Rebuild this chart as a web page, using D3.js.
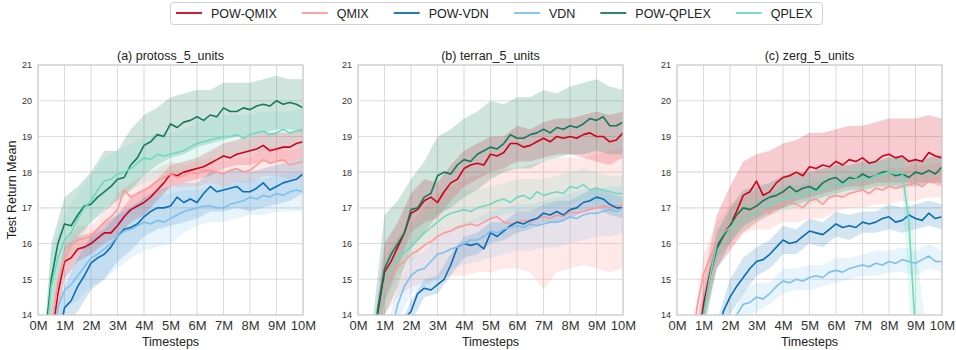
<!DOCTYPE html>
<html>
<head>
<meta charset="utf-8">
<script src="https://cdn.jsdelivr.net/npm/d3@7"></script>
<style>
  body { margin: 0; background: #fff; }
  svg { display: block; font-family: "Liberation Sans", Arial, sans-serif; }
</style>
</head>
<body>
<svg width="956" height="350"></svg>
<script>
// шаги по оси X (млн. шагов): линии через 0.25M, полосы через 0.5M
const steps = d3.range(41).map(i => i * 0.25);
const bandSteps = d3.range(21).map(i => i * 0.5);

const xTicks = [0, 1, 2, 3, 4, 5, 6, 7, 8, 9, 10];
const yTicks = [14, 15, 16, 17, 18, 19, 20, 21];

const seriesNames = ["POW-QMIX", "QMIX", "POW-VDN", "VDN", "POW-QPLEX", "QPLEX"];
const seriesColors = ["#d0021b", "#ff9896", "#0a6db3", "#7cc0ec", "#15795b", "#6fd9bf"];

const panelTitles = ["(a) protoss_5_units", "(b) terran_5_units", "(c) zerg_5_units"];

// (a) protoss_5_units
const a_powQmix = [10,11.5,13.3,14.6,15.5,15.6,15.85,15.9,16,16.15,16.3,16.3,16.5,16.75,16.95,17.05,17.15,17.3,17.5,17.7,17.95,17.9,18,18.05,18.1,18.15,18.25,18.35,18.45,18.4,18.5,18.55,18.6,18.65,18.75,18.6,18.65,18.7,18.7,18.8,18.85];
const a_qmix = [10,11.8,13.6,14.9,15.6,15.95,16.1,16.15,16.2,16.4,16.6,16.75,16.95,17.5,17.3,17.4,17.5,17.6,17.75,17.85,17.95,17.85,17.9,18,17.95,18.05,18.05,18,17.95,18.05,18.1,18,18.05,18.2,18.35,18.25,18.3,18.35,18.2,18.25,18.3];
const a_powVdn = [9,10.5,12,13.3,14.2,14.4,14.8,15.1,15.45,15.6,15.7,15.9,16.2,16.4,16.45,16.55,16.75,16.9,17,17,17.05,17.3,17.15,17.25,17.15,17.4,17.6,17.45,17.5,17.55,17.6,17.45,17.45,17.55,17.7,17.5,17.6,17.7,17.75,17.8,17.95];
const a_vdn = [9.5,11,12.8,14.2,14.7,14.85,15.1,15.35,15.6,15.7,15.85,16,16.2,16.35,16.4,16.5,16.6,16.55,16.65,16.6,16.7,16.8,16.9,16.95,17,17.05,17.05,17,17,17.1,17.15,17.2,17.3,17.25,17.35,17.3,17.4,17.35,17.45,17.5,17.45];
const a_powQplex = [10,13.2,15,16,16.55,16.5,16.8,17.05,17.1,17.3,17.45,17.6,17.8,17.85,18.2,18.4,18.75,18.85,19.05,19,19.35,19.25,19.4,19.45,19.55,19.45,19.6,19.55,19.8,19.7,19.7,19.8,19.75,19.85,19.9,19.85,20,19.9,19.95,19.9,19.8];
const a_qplex = [10,12.8,14.8,15.6,16.1,16.3,16.7,17,17.2,17.5,17.75,17.8,17.95,18,18.1,18.25,18.4,18.35,18.5,18.45,18.5,18.55,18.6,18.7,18.8,18.85,18.9,18.95,19,19,19.05,18.95,19.05,19.1,19.15,19.05,19.1,19.2,19.1,19.15,19.2];

const a_powQmixLo = [9,12.8,15,15.5,15.7,16,16.2,16.6,16.8,17.2,17.6,17.7,17.8,17.9,18.1,18.2,18.2,18.3,18.3,18.3,18.4];
const a_powQmixHi = [11,13.9,15.9,16.2,16.3,16.6,16.8,17.3,17.5,17.8,18.2,18.3,18.4,18.6,18.8,18.9,19,19.1,19.1,19.1,19.2];
const a_qmixLo = [9,13,15.2,15.7,15.9,16.2,16.5,16.9,17.1,17.4,17.6,17.6,17.6,17.7,17.6,17.7,17.7,17.9,17.9,17.8,17.9];
const a_qmixHi = [11,14.2,16,16.5,16.5,16.9,17.4,17.7,17.9,18.1,18.3,18.2,18.3,18.4,18.3,18.4,18.4,18.7,18.7,18.6,18.7];
const a_powVdnLo = [8,11,13.6,14.1,14.7,15,15.5,15.8,16.2,16.4,16.5,16.6,16.7,16.9,16.9,17,16.9,17,17.1,17.2,17.4];
const a_powVdnHi = [10,13,14.8,15.6,16.2,16.4,16.8,17,17.3,17.5,17.6,17.7,17.7,18,18,18.1,18,18.1,18.2,18.3,18.4];
const a_vdnLo = [8.5,12,14.2,14.4,14.8,15,15.3,15.6,15.8,15.9,16,16.3,16.5,16.6,16.6,16.7,16.8,16.8,16.9,16.9,16.9];
const a_vdnHi = [10.5,13.6,15.2,15.7,16.2,16.5,16.9,17.1,17.2,17.3,17.4,17.5,17.5,17.6,17.6,17.7,17.8,17.8,17.9,18,18];
const a_powQplexLo = [9,14,15.8,16.2,16.6,16.9,17.2,17.5,17.9,18.2,18.4,18.5,18.7,18.8,18.9,19,19,19.1,19.2,19.2,19.1];
const a_powQplexHi = [11,16,17.3,17.6,18,18.6,18.6,19.2,19.6,19.8,20.1,20.2,20.3,20.3,20.5,20.5,20.5,20.6,20.7,20.6,20.6];
const a_qplexLo = [9,13.8,15.4,16,16.6,17,17.3,17.5,17.7,17.8,17.9,18,18.1,18.3,18.4,18.5,18.5,18.6,18.6,18.7,18.7];
const a_qplexHi = [11,15.8,16.8,17.4,17.9,18.4,18.6,18.8,19,19.1,19.1,19.2,19.4,19.5,19.6,19.6,19.6,19.7,19.7,19.7,19.8];

// (b) terran_5_units
const b_powQmix = [9,10.5,12.2,14,15.2,15.5,15.9,16.3,16.85,16.95,17.2,17.3,17.15,17.45,17.7,17.8,18.1,18.2,18.25,18.2,18.5,18.45,18.55,18.8,18.8,18.7,18.75,18.85,18.95,18.85,19,18.95,19,18.95,19.05,19.1,19,19,18.85,18.9,19.1];
const b_qmix = [9,10.3,11.9,13.7,14.8,15.1,15.35,15.5,15.7,15.8,15.95,16.05,16.2,16.3,16.35,16.45,16.5,16.55,16.5,16.6,16.7,16.75,16.6,16.55,16.6,16.65,16.6,16.7,16.75,16.7,16.8,16.75,16.9,16.85,16.9,16.95,17,17.05,17,17.05,17.05];
const b_powVdn = [8,9,10,11,11.8,12.6,13.3,13.9,14.1,14.6,14.75,14.7,14.85,15,15.4,15.9,16,15.95,16,15.85,16.3,16.2,16.35,16.5,16.6,16.55,16.65,16.7,16.85,16.8,16.9,16.8,16.95,17,17.15,17.2,17.3,17.25,17.1,17,17];
const b_vdn = [8.5,9.5,10.5,11.5,12.6,13.5,14.3,14.8,15.1,15.25,15.3,15.5,15.7,15.75,15.85,15.9,16,16.1,16.1,16.2,16.35,16.3,16.4,16.45,16.5,16.45,16.55,16.5,16.55,16.6,16.6,16.65,16.75,16.7,16.8,16.85,16.85,16.9,16.95,16.9,17];
const b_powQplex = [9,10.5,12.2,14.2,15.3,15.7,16,16.3,16.95,17,17.3,17.4,17.9,18,17.95,18.2,18.35,18.3,18.5,18.6,18.7,18.65,18.8,19.05,18.95,18.95,19.05,19.1,19.2,19.1,19.25,19.2,19.3,19.25,19.35,19.5,19.45,19.55,19.3,19.3,19.4];
const b_qplex = [9,10.3,12,13.8,14.9,15.3,15.6,15.75,15.9,16.1,16.3,16.45,16.6,16.75,16.85,16.9,16.95,16.9,17,17.05,17.1,17.2,17.25,17.15,17.3,17.35,17.25,17.45,17.35,17.4,17.45,17.4,17.6,17.55,17.65,17.5,17.55,17.5,17.45,17.4,17.4];

const b_powQmixLo = [8,11,14.4,15.3,16.3,16.6,16.7,17.2,17.6,17.8,18,18.1,18.3,18.3,18.4,18.5,18.5,18.4,18.3,18.2,18.4];
const b_powQmixHi = [10,13,16,16.6,17.4,17.8,17.7,18.2,18.6,18.8,19,19,19.3,19.2,19.4,19.5,19.5,19.6,19.7,19.6,19.7];
const b_qmixLo = [8,10.5,14,14.5,14.8,14.9,15,15.1,15.1,15.2,15.2,15.3,15.3,15.2,14.7,15.2,15.3,15.4,15.3,15.2,15.3];
const b_qmixHi = [10,13,15.6,16.2,16.6,17,17.4,17.6,17.8,17.9,18,18.1,18.1,18.2,18.3,18.4,18.4,18.4,18.5,18.6,18.7];
const b_powVdnLo = [7.5,9.5,11.4,13,13.8,14.5,14.6,15.1,15.6,15.7,16,16.1,16.3,16.4,16.6,16.6,16.7,16.9,17,16.8,16.7];
const b_powVdnHi = [8.5,10.5,12.2,13.6,14.4,15,15.1,15.7,16.2,16.3,16.6,16.6,16.9,16.9,17.1,17.2,17.2,17.4,17.6,17.4,17.3];
const b_vdnLo = [7.5,9.5,11.8,13.8,14.6,14.8,15,15.3,15.4,15.5,15.6,15.7,15.8,15.8,15.9,15.9,16,16.1,16.2,16.2,16.3];
const b_vdnHi = [9.5,11.5,13.4,14.8,15.6,15.8,16.2,16.4,16.6,16.7,16.9,17,17.1,17.1,17.2,17.3,17.4,17.5,17.5,17.6,17.6];
const b_powQplexLo = [8,11,14,14.8,15.9,16.3,16.8,17,17.3,17.5,17.8,18,18.1,18.1,18.3,18.4,18.5,18.5,18.6,18.5,18.5];
const b_powQplexHi = [10,13.5,16.8,17.2,17.8,18.3,19,19.2,19.5,19.7,20,19.9,20.1,20.1,20.3,20.2,20.4,20.5,20.6,20.4,20.3];
const b_qplexLo = [8,11,14.3,15.1,15.5,15.9,16.2,16.4,16.5,16.6,16.7,16.8,16.9,16.9,17,17,17.1,17.2,17.1,17,17];
const b_qplexHi = [10,13,15.5,16.1,16.4,16.8,17.1,17.3,17.5,17.5,17.6,17.7,17.8,17.8,17.8,17.9,18,18.1,18,17.9,17.9];

// (c) zerg_5_units
const c_powQmix = [9,10.3,11.6,12.9,14.3,15.2,15.9,16.3,16.5,16.9,17.35,17.45,17.75,17.35,17.45,17.7,17.85,17.9,18,17.9,18.15,18.1,18.2,18.15,18.3,18.2,18.35,18.3,18.4,18.25,18.3,18.45,18.5,18.4,18.45,18.3,18.35,18.3,18.55,18.45,18.4];
const c_qmix = [9.5,11,12.6,14.2,15.15,15.6,16.05,16.35,16.6,16.7,16.8,16.9,17,16.95,16.85,17.05,17.1,17.15,17.1,17,17.2,17.25,17.1,17.3,17.35,17.3,17.4,17.45,17.5,17.4,17.55,17.5,17.6,17.55,17.6,17.65,17.7,17.6,17.75,17.8,17.85];
const c_powVdn = [8,8.8,9.6,10.5,11.4,12.3,13.2,14.1,14.5,14.8,15.05,15.3,15.5,15.55,15.7,15.9,16.1,16,16.05,16.2,16.35,16.3,16.25,16.4,16.55,16.45,16.5,16.45,16.6,16.55,16.6,16.7,16.75,16.6,16.65,16.8,16.7,16.65,16.85,16.7,16.75];
const c_vdn = [7.5,8.2,8.9,9.6,10.3,11,11.8,12.6,13.4,14,14.3,14.35,14.5,14.45,14.6,14.8,14.95,14.9,15,14.95,15.05,15.1,15.05,15.2,15.25,15.2,15.3,15.35,15.4,15.35,15.45,15.4,15.5,15.45,15.55,15.5,15.45,15.55,15.65,15.5,15.5];
const c_powQplex = [9,10.2,11.5,12.8,14.1,15.1,15.85,16.2,16.5,16.8,17,16.95,17.05,17.2,17.3,17.35,17.45,17.6,17.45,17.55,17.6,17.5,17.7,17.8,17.85,17.7,17.85,17.8,17.95,17.85,17.9,18,18,17.9,17.95,17.85,18,17.95,18.05,17.95,18.15];
const c_qplex = [9,10.2,11.5,12.8,14,15.1,16,16.3,16.45,16.6,16.75,16.85,16.9,17,17.1,17.2,17.25,17.3,17.4,17.35,17.5,17.45,17.55,17.6,17.7,17.65,17.75,17.8,17.85,17.8,17.9,17.95,18,17.95,18,16.6,13.5,12,11.5,11.2,11];

const c_powQmixLo = [8,11,13.8,15.3,15.8,16.3,16.6,16.8,17,17.2,17.3,17.4,17.5,17.6,17.6,17.7,17.7,17.7,17.7,17.7,17.6];
const c_powQmixHi = [10,12.2,15,16.8,17.6,18.3,18.5,18.6,18.8,18.9,19.1,19.1,19.2,19.3,19.3,19.4,19.5,19.5,19.5,19.6,19.5];
const c_qmixLo = [8.5,12,14.6,15.6,16,16.3,16.4,16.4,16.6,16.6,16.7,16.7,16.9,17,17,17.1,17.1,17.2,17.2,17.3,17.3];
const c_qmixHi = [10.5,13.2,15.7,16.6,17.1,17.3,17.5,17.4,17.6,17.6,17.7,17.7,17.8,17.9,18,18,18.1,18.1,18.2,18.2,18.3];
const c_powVdnLo = [7.5,9,10.8,12.6,14,14.6,15.1,15.3,15.7,15.7,16,15.9,16.2,16.1,16.3,16.3,16.4,16.3,16.4,16.5,16.4];
const c_powVdnHi = [8.5,10.2,12,13.8,15,15.6,15.9,16.1,16.5,16.4,16.7,16.6,16.9,16.8,16.9,16.9,17.1,17,17.1,17.2,17.1];
const c_vdnLo = [7,8.5,9.9,11.4,13,13.9,14.1,14.3,14.6,14.7,14.7,14.8,14.9,15,15.1,15.1,15.2,15.2,15.1,15.3,15.2];
const c_vdnHi = [8,9.3,10.7,12.2,13.8,14.7,14.9,14.9,15.3,15.3,15.4,15.4,15.6,15.6,15.7,15.8,15.8,15.9,15.8,16,15.8];
const c_powQplexLo = [8,11,13.5,15.3,16,16.5,16.7,16.9,17,17.1,17.2,17.3,17.4,17.5,17.5,17.6,17.6,17.6,17.6,17.7,17.7];
const c_powQplexHi = [10,12,14.6,16.3,17,17.5,17.6,17.7,17.9,18,18,18.1,18.2,18.2,18.3,18.3,18.4,18.4,18.3,18.4,18.5];
const c_qplexLo = [8,11,13.5,15.6,16.1,16.4,16.6,16.8,16.9,17,17.1,17.2,17.3,17.4,17.5,17.5,17.6,17.5,11.5,10.5,10];
const c_qplexHi = [10,12,14.5,16.4,16.8,17.1,17.2,17.4,17.6,17.7,17.8,17.9,18,18.1,18.2,18.3,18.4,18.5,16,13,12];

// таблица панелей, собранная из массивов выше
const panels = [
  { title: panelTitles[0], left: 38,
    mean: [a_powQmix, a_qmix, a_powVdn, a_vdn, a_powQplex, a_qplex],
    lo: [a_powQmixLo, a_qmixLo, a_powVdnLo, a_vdnLo, a_powQplexLo, a_qplexLo],
    hi: [a_powQmixHi, a_qmixHi, a_powVdnHi, a_vdnHi, a_powQplexHi, a_qplexHi] },
  { title: panelTitles[1], left: 358,
    mean: [b_powQmix, b_qmix, b_powVdn, b_vdn, b_powQplex, b_qplex],
    lo: [b_powQmixLo, b_qmixLo, b_powVdnLo, b_vdnLo, b_powQplexLo, b_qplexLo],
    hi: [b_powQmixHi, b_qmixHi, b_powVdnHi, b_vdnHi, b_powQplexHi, b_qplexHi] },
  { title: panelTitles[2], left: 677,
    mean: [c_powQmix, c_qmix, c_powVdn, c_vdn, c_powQplex, c_qplex],
    lo: [c_powQmixLo, c_qmixLo, c_powVdnLo, c_vdnLo, c_powQplexLo, c_qplexLo],
    hi: [c_powQmixHi, c_qmixHi, c_powVdnHi, c_vdnHi, c_powQplexHi, c_qplexHi] }
];

const svg = d3.select("svg");
const area_attr = { width: 265, top: 65, height: 250 };
const bandOpacity = [0.2, 0.22, 0.18, 0.18, 0.2, 0.18];

panels.forEach((p, k) => {
  const scX = d3.scaleLinear().domain([0, 10]).range([0, area_attr.width]);
  const scY = d3.scaleLinear().domain([14, 21]).range([area_attr.height, 0]);

  const g = svg.append("g")
      .attr("transform", `translate(${p.left}, ${area_attr.top})`);

  // сетка
  g.append("g").selectAll("line").data(yTicks).join("line")
      .attr("x1", 0).attr("x2", area_attr.width)
      .attr("y1", d => scY(d)).attr("y2", d => scY(d))
      .attr("stroke", "#dcdcdc").attr("stroke-width", 1.1);
  g.append("g").selectAll("line").data(xTicks).join("line")
      .attr("y1", 0).attr("y2", area_attr.height)
      .attr("x1", d => scX(d)).attr("x2", d => scX(d))
      .attr("stroke", "#dcdcdc").attr("stroke-width", 1.1);

  // оси (подписи)
  const axisY = d3.axisLeft(scY).tickValues(yTicks).tickSize(0).tickPadding(6)
      .tickFormat(d3.format("d"));
  const axisX = d3.axisBottom(scX).tickValues(xTicks).tickSize(0).tickPadding(6)
      .tickFormat(d => d + "M");
  const gy = g.append("g").call(axisY);
  gy.select(".domain").remove();
  gy.selectAll("text").attr("font-size", 9).attr("fill", "#333")
      .attr("font-family", "Liberation Sans, Arial, sans-serif");
  const gx = g.append("g").attr("transform", `translate(0, ${area_attr.height})`).call(axisX);
  gx.select(".domain").remove();
  gx.selectAll("text").attr("font-size", 13).attr("fill", "#333")
      .attr("font-family", "Liberation Sans, Arial, sans-serif");

  // область отсечения
  const clipId = "clip" + k;
  g.append("clipPath").attr("id", clipId)
    .append("rect").attr("width", area_attr.width).attr("height", area_attr.height);
  const plot = g.append("g").attr("clip-path", `url(#${clipId})`);

  const area = d3.area()
      .x((d, i) => scX(bandSteps[i]))
      .y0(d => scY(d[0]))
      .y1(d => scY(d[1]));
  const line = d3.line()
      .x((d, i) => scX(steps[i]))
      .y(d => scY(d));

  p.mean.forEach((m, i) => {
    const band = p.lo[i].map((v, j) => [v, p.hi[i][j]]);
    plot.append("path").datum(band)
        .attr("d", area)
        .attr("fill", seriesColors[i])
        .attr("fill-opacity", bandOpacity[i]);
  });
  p.mean.forEach((m, i) => {
    plot.append("path").datum(m)
        .attr("d", line)
        .attr("fill", "none")
        .attr("stroke", seriesColors[i])
        .attr("stroke-width", 1.6)
        .attr("stroke-linejoin", "round");
  });

  // рамка
  g.append("rect").attr("width", area_attr.width).attr("height", area_attr.height)
      .attr("fill", "none").attr("stroke", "#cfcfcf").attr("stroke-width", 1.2);

  g.append("text")
      .attr("x", area_attr.width / 2).attr("y", -5)
      .attr("text-anchor", "middle").attr("font-size", 12.5).attr("fill", "#222")
      .text(p.title);
  g.append("text")
      .attr("x", area_attr.width / 2).attr("y", area_attr.height + 31)
      .attr("text-anchor", "middle").attr("font-size", 12.5).attr("fill", "#222")
      .text("Timesteps");
});

svg.append("text")
    .attr("transform", "translate(16, 190) rotate(-90)")
    .attr("text-anchor", "middle").attr("font-size", 12.5).attr("fill", "#222")
    .text("Test Return Mean");

// легенда
const legend = svg.append("g");
legend.append("rect")
    .attr("x", 170.5).attr("y", 2.5).attr("width", 652).attr("height", 22)
    .attr("rx", 3).attr("fill", "#fff").attr("stroke", "#d0d0d0");
let lx = 176;
seriesNames.forEach((name, i) => {
  legend.append("line")
      .attr("x1", lx).attr("x2", lx + 26).attr("y1", 13).attr("y2", 13)
      .attr("stroke", seriesColors[i]).attr("stroke-width", 1.8);
  const t = legend.append("text")
      .attr("x", lx + 35).attr("y", 17.5)
      .attr("font-size", 12.5).attr("fill", "#222")
      .text(name);
  lx += 35 + t.node().getComputedTextLength() + 25;
});
</script>
</body>
</html>
